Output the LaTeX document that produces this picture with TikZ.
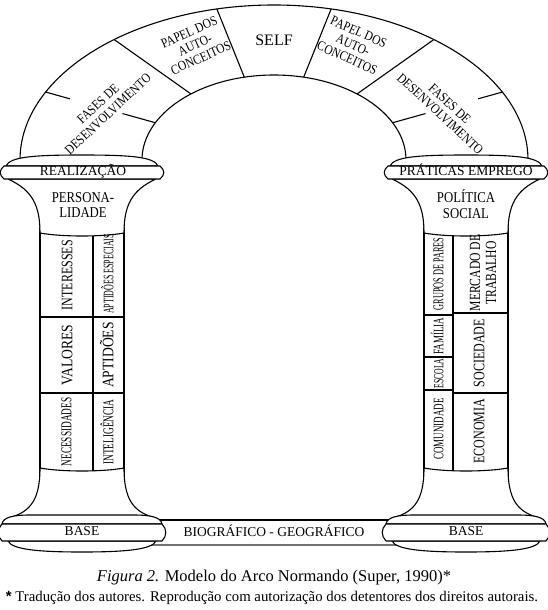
\documentclass[tikz,border=0pt]{standalone}
\usepackage{fontspec}
\setmainfont{Liberation Serif}
\setsansfont{Liberation Sans}
\newfontfamily\condA[FakeStretch=0.85]{Liberation Serif}
\newfontfamily\condB[FakeStretch=0.75]{Liberation Serif}
\newfontfamily\condC[FakeStretch=0.62]{Liberation Serif}
\newfontfamily\condD[FakeStretch=0.55]{Liberation Serif}
\usetikzlibrary{calc}

\tikzset{
  stone/.style={draw=black, fill=white, line width=1.1pt, line join=round},
  arch line/.style={line width=1.1pt},
  archtext/.style={inner sep=0pt, align=center, font=\condA\fontsize{13.5}{14.2}\selectfont},
  bandtext/.style={inner sep=0pt, text height=0.68em, text depth=0pt,
    font=\fontsize{13.5}{13.5}\selectfont},
  shafttext/.style={inner sep=0pt, rotate=90, text height=0.68em, text depth=0pt},
  shaftblock/.style={inner sep=0pt, rotate=90, align=center}
}

\begin{document}
\begin{tikzpicture}[x=1pt, y=-1pt]
\useasboundingbox (0,0) rectangle (548,610);

% arch
\draw[arch line] (20,160) arc[start angle=180, end angle=360, x radius=254, y radius=155];
\draw[arch line] (142,160) arc[start angle=180, end angle=360, x radius=132, y radius=85];
\foreach \t in {51,77,103,129}
  \draw[arch line] ({274+254*cos(\t)},{160-155*sin(\t)}) -- ({274+132*cos(\t)},{160-85*sin(\t)});
\foreach \t in {26,154} {
  \coordinate (outer) at ({274+254*cos(\t)},{160-155*sin(\t)});
  \coordinate (inner) at ({274+132*cos(\t)},{160-85*sin(\t)});
  \draw[arch line] (outer) -- ($(outer)!0.22!(inner)$) ($(outer)!0.7!(inner)$) -- (inner);
}

% shafts
\foreach \cx in {82,466}
  \draw[arch line] (\cx-42,228) rectangle (\cx+42,474);
\draw[arch line] (93,228) -- (93,474) (40,317) -- (124,317) (40,393) -- (124,393);
\draw[arch line] (453,228) -- (453,474)
  (424,315) -- (453,315) (424,357) -- (453,357) (424,390) -- (453,390)
  (453,313) -- (508,313) (453,393) -- (508,393);

% ground band
\draw[arch line] (160,520) -- (388,520);
\draw[line width=1.8pt, black!55] (150,545) -- (398,545);

% capitals
\foreach \cx in {82,466} {
  \draw[stone] (\cx-74,179) .. controls (\cx-50,190) and (\cx-42,205) .. (\cx-42,233)
    .. controls (\cx-20,237) and (\cx+20,237) .. (\cx+42,233)
    .. controls (\cx+42,205) and (\cx+50,190) .. (\cx+74,179) -- cycle;
  \draw[stone] (\cx-76,166) .. controls (\cx-72,157) and (\cx-50,155) .. (\cx,155)
    .. controls (\cx+50,155) and (\cx+72,157) .. (\cx+76,166) -- cycle;
  \draw[stone] (\cx-78,166) -- (\cx+78,166) .. controls (\cx+83,170) and (\cx+83,175) .. (\cx+78,179)
    -- (\cx-78,179) .. controls (\cx-83,175) and (\cx-83,170) .. (\cx-78,166) -- cycle;
}

% bases
\foreach \cx in {82,466} {
  \draw[stone] (\cx-42,468) .. controls (\cx-20,472) and (\cx+20,472) .. (\cx+42,468)
    .. controls (\cx+42,500) and (\cx+52,511) .. (\cx+70,517)
    -- (\cx-70,517) .. controls (\cx-52,511) and (\cx-42,500) .. (\cx-42,468) -- cycle;
  \draw[stone] (\cx-80,524) .. controls (\cx-79,517) and (\cx-68,515) .. (\cx-52,515)
    -- (\cx+52,515) .. controls (\cx+68,515) and (\cx+79,517) .. (\cx+80,524) -- cycle;
  \draw[stone] (\cx-74,541) .. controls (\cx-70,550) and (\cx-40,552) .. (\cx,552)
    .. controls (\cx+40,552) and (\cx+70,550) .. (\cx+74,541) -- cycle;
  \draw[stone] (\cx-80,524) -- (\cx+80,524) .. controls (\cx+85,529) and (\cx+85,536) .. (\cx+80,541)
    -- (\cx-80,541) .. controls (\cx-85,536) and (\cx-85,529) .. (\cx-80,524) -- cycle;
}

% arch texts
\node[bandtext, font=\fontsize{16}{16}\selectfont] (self) at (274,42) {SELF};
\node[archtext, rotate=24] (papelL) at (195,45) {PAPEL DOS\\AUTO-\\CONCEITOS};
\node[archtext, rotate=-24] (papelR) at (353,45) {PAPEL DOS\\AUTO-\\CONCEITOS};
\node[archtext, rotate=43] (fasesL) at (103,109) {FASES DE\\DESENVOLVIMENTO};
\node[archtext, rotate=-43] (fasesR) at (445,109) {FASES DE\\DESENVOLVIMENTO};

% capital texts
\node[bandtext] (realizacao) at (83,172) {REALIZAÇÃO};
\node[bandtext] (praticas) at (466,172) {PRÁTICAS EMPREGO};
\node[archtext, font=\condA\fontsize{15}{15.5}\selectfont] (personalidade) at (83,205) {PERSONA-\\LIDADE};
\node[archtext, font=\condA\fontsize{15}{15.5}\selectfont] (politica) at (466,204) {POLÍTICA\\SOCIAL};

% left shaft
\node[shafttext, font=\condB\fontsize{16}{16}\selectfont] (interesses) at (69,275) {INTERESSES};
\node[shafttext, font=\condA\fontsize{16}{16}\selectfont] (valores) at (69,355) {VALORES};
\node[shafttext, font=\condC\fontsize{15}{15}\selectfont] (necessidades) at (68,432) {NECESSIDADES};
\node[shafttext, font=\condD\fontsize{14.5}{14.5}\selectfont] (aptespeciais) at (110,274) {APTIDÕES ESPECIAIS};
\node[shafttext, font=\condA\fontsize{16}{16}\selectfont] (aptidoes) at (110,355) {APTIDÕES};
\node[shafttext, font=\condC\fontsize{15}{15}\selectfont] (inteligencia) at (110,432) {INTELIGÊNCIA};

% right shaft
\node[shafttext, font=\condD\fontsize{15}{15}\selectfont] (grupos) at (440,274) {GRUPOS DE PARES};
\node[shafttext, font=\condC\fontsize{14.5}{14.5}\selectfont] (familia) at (440,336) {FAMÍLIA};
\node[shafttext, font=\condD\fontsize{14}{14}\selectfont] (escola) at (440,373.5) {ESCOLA};
\node[shafttext, font=\condC\fontsize{14.5}{14.5}\selectfont] (comunidade) at (440,429) {COMUNIDADE};
\node[shaftblock, font=\condB\fontsize{15.5}{16}\selectfont] (mercado) at (483,273) {MERCADO DE\\TRABALHO};
\node[shafttext, font=\condB\fontsize{16}{16}\selectfont] (sociedade) at (481,353) {SOCIEDADE};
\node[shafttext, font=\condB\fontsize{16}{16}\selectfont] (economia) at (481,431) {ECONOMIA};

% base texts
\node[bandtext] (baseL) at (82,532) {BASE};
\node[bandtext] (baseR) at (466,532) {BASE};
\node[bandtext] (biogeo) at (274,533) {BIOGRÁFICO - GEOGRÁFICO};

% caption
\node[inner sep=0pt, font=\fontsize{16.5}{16.5}\selectfont] (caption) at (274,578)
  {\textit{Figura 2.} Modelo do Arco Normando (Super, 1990)*};
\node[inner sep=0pt, font=\fontsize{14.8}{14.8}\selectfont] (note) at (272,598)
  {{\sffamily\bfseries *} Tradução dos autores. Reprodução com autorização dos detentores dos direitos autorais.};
\end{tikzpicture}
\end{document}
